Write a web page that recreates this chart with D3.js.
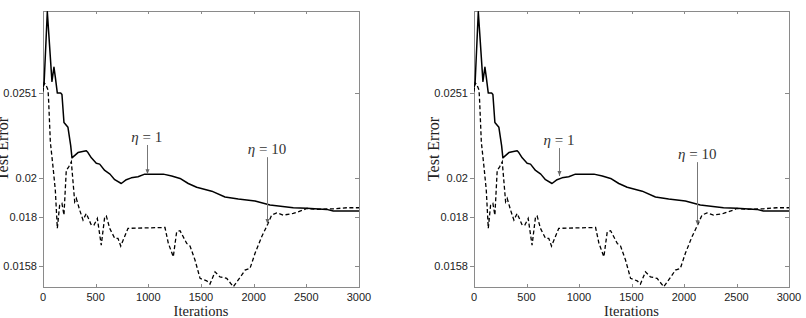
<!DOCTYPE html>
<html>
<head>
<meta charset="utf-8">
<script src="https://cdn.jsdelivr.net/npm/d3@7/dist/d3.min.js"></script>
<style>
  body { margin: 0; background: #fff; }
  svg { display: block; }
  .tick-label { font-family: "Liberation Sans", Arial, sans-serif; font-size: 11px; fill: #222; }
  .axis-title { font-family: "Liberation Serif", "Times New Roman", serif; fill: #222; }
  .anno { font-family: "Liberation Serif", "Times New Roman", serif; font-size: 15px; fill: #333; }
</style>
</head>
<body>
<svg id="chart" width="806" height="318"></svg>
<script>
// datos (iteraciones vs error de test)
const solidIters = [0, 10, 41, 85, 104, 117, 136, 168, 180, 199, 237, 263, 275, 332, 364, 411, 427, 459, 506, 538,
  586, 636, 681, 743, 791, 838, 902, 966, 1142, 1222, 1301, 1379, 1459, 1602, 1728, 1854, 2013, 2155, 2376, 2503,
  2693, 2756, 3000];
const solidErr = [0.0255, 0.0257, 0.0312, 0.0259, 0.0269, 0.0262, 0.0251, 0.0251, 0.0250, 0.0232, 0.0229, 0.0218,
  0.0211, 0.0214, 0.02145, 0.0215, 0.0214, 0.0211, 0.0208, 0.02075, 0.0204, 0.0202, 0.0199, 0.0197, 0.0199, 0.0200,
  0.02006, 0.0202, 0.0202, 0.0201, 0.01997, 0.0197, 0.0195, 0.0193, 0.0190, 0.0189, 0.0188, 0.0186, 0.01846,
  0.01843, 0.01838, 0.0183, 0.0183];

const dashedIters = [0, 10, 25, 48, 54, 70, 95, 117, 136, 158, 180, 199, 221, 244, 269, 301, 316, 348, 380, 411,
  459, 484, 516, 553, 586, 601, 633, 681, 712, 738, 807, 1158, 1190, 1237, 1269, 1301, 1364, 1396, 1443, 1491,
  1554, 1585, 1633, 1680, 1744, 1807, 1886, 1918, 1965, 2013, 2076, 2129, 2171, 2219, 2281, 2376, 2471, 2503, 2598,
  2756, 2883, 3000];
const dashedErr = [0.0252, 0.0258, 0.0257, 0.0253, 0.0245, 0.0220, 0.0206, 0.01935, 0.01747, 0.01859, 0.01868,
  0.0181, 0.0204, 0.0206, 0.02088, 0.01876, 0.01893, 0.01835, 0.01786, 0.01818, 0.01762, 0.01762, 0.01794, 0.0167,
  0.01802, 0.01806, 0.01747, 0.01701, 0.01701, 0.01666, 0.01747, 0.01751, 0.01678, 0.01619, 0.01731, 0.01736,
  0.01678, 0.01666, 0.01605, 0.01528, 0.01518, 0.01505, 0.01555, 0.01534, 0.01528, 0.01494, 0.01541, 0.01562,
  0.01569, 0.01634, 0.01708, 0.01762, 0.0181, 0.01821, 0.0181, 0.01818, 0.01835, 0.01843, 0.01838, 0.01841,
  0.01846, 0.01846];

const xTicks = [0, 500, 1000, 1500, 2000, 2500, 3000];
const yTicks = [0.0158, 0.018, 0.02, 0.0251];
const yTickLabels = ['0.0158', '0.018', '0.02', '0.0251'];

// anotaciones: texto, iteracion, valor de la punta y valor del inicio de la flecha
const annoLabels = ['1', '10'];
const leftAnnoIters = [985, 2127];
const leftAnnoTip = [0.0202, 0.01767];
const leftAnnoTop = [0.02184, 0.02114];
const rightAnnoIters = [810, 2127];
const rightAnnoTip = [0.0201, 0.01762];
const rightAnnoTop = [0.02166, 0.02086];

const svg = d3.select('#chart');
const plotTop = 11, plotBottom = 287;

const yScale = d3.scaleLog()
    .domain([0.01493, 0.03127])
    .range([plotBottom, plotTop]);

const defs = svg.append('defs');
defs.append('marker')
    .attr('id', 'arrow')
    .attr('viewBox', '0 0 10 10')
    .attr('refX', 10).attr('refY', 5)
    .attr('markerWidth', 5).attr('markerHeight', 5)
    .attr('orient', 'auto')
    .append('path')
    .attr('d', 'M0,1 L10,5 L0,9 Z')
    .attr('fill', '#666');

function drawPanel(id, x0, x1, annoIters, annoTip, annoTop) {
    const xScale = d3.scaleLinear().domain([0, 3000]).range([x0, x1]);
    const g = svg.append('g');
    const axisColor = '#8a8a8a';

    defs.append('clipPath').attr('id', 'clip' + id)
        .append('rect')
        .attr('x', x0).attr('y', plotTop)
        .attr('width', x1 - x0).attr('height', plotBottom - plotTop);

    // caja de los ejes
    g.append('rect')
        .attr('x', x0 + 0.5).attr('y', plotTop + 0.5)
        .attr('width', x1 - x0).attr('height', plotBottom - plotTop)
        .attr('fill', 'none')
        .attr('stroke', axisColor)
        .attr('stroke-width', 1);

    // ticks en x (abajo y arriba, hacia adentro)
    xTicks.forEach(t => {
        const x = Math.round(xScale(t)) + 0.5;
        g.append('line').attr('x1', x).attr('x2', x).attr('y1', plotBottom).attr('y2', plotBottom - 3)
            .attr('stroke', axisColor);
        g.append('line').attr('x1', x).attr('x2', x).attr('y1', plotTop).attr('y2', plotTop + 3)
            .attr('stroke', axisColor);
        g.append('text').attr('class', 'tick-label')
            .attr('x', xScale(t)).attr('y', 300.5)
            .attr('text-anchor', 'middle')
            .text(t);
    });

    // ticks en y (izquierda hacia afuera, derecha hacia adentro)
    yTicks.forEach((t, i) => {
        const y = Math.round(yScale(t)) + 0.5;
        g.append('line').attr('x1', x0 - 4).attr('x2', x0).attr('y1', y).attr('y2', y)
            .attr('stroke', axisColor);
        g.append('line').attr('x1', x1 - 4).attr('x2', x1).attr('y1', y).attr('y2', y)
            .attr('stroke', axisColor);
        g.append('text').attr('class', 'tick-label')
            .attr('x', x0 - 6).attr('y', yScale(t) + 4)
            .attr('text-anchor', 'end')
            .text(yTickLabels[i]);
    });

    // titulos de ejes
    g.append('text').attr('class', 'axis-title')
        .attr('x', (x0 + x1) / 2).attr('y', 316)
        .attr('text-anchor', 'middle')
        .style('font-size', '14.5px')
        .text('Iterations');
    g.append('text').attr('class', 'axis-title')
        .attr('transform', `translate(${x0 - 35},149) rotate(-90)`)
        .attr('text-anchor', 'middle')
        .style('font-size', '16px')
        .text('Test Error');

    const line = d3.line()
        .x(d => xScale(d[0]))
        .y(d => yScale(d[1]));

    const lines = g.append('g').attr('clip-path', `url(#clip${id})`);
    lines.append('path')
        .datum(solidIters.map((d, i) => [d, solidErr[i]]))
        .attr('d', line)
        .attr('fill', 'none')
        .attr('stroke', '#000')
        .attr('stroke-width', 1.5)
        .attr('stroke-linejoin', 'round');
    lines.append('path')
        .datum(dashedIters.map((d, i) => [d, dashedErr[i]]))
        .attr('d', line)
        .attr('fill', 'none')
        .attr('stroke', '#000')
        .attr('stroke-width', 1.3)
        .attr('stroke-dasharray', '4,2.5');

    // flechas con eta
    annoIters.forEach((it, i) => {
        const x = Math.round(xScale(it)) + 0.5;
        g.append('line')
            .attr('x1', x).attr('x2', x)
            .attr('y1', yScale(annoTop[i])).attr('y2', yScale(annoTip[i]))
            .attr('stroke', '#777')
            .attr('stroke-width', 1)
            .attr('marker-end', 'url(#arrow)');
        const txt = g.append('text').attr('class', 'anno')
            .attr('x', xScale(it)).attr('y', yScale(annoTop[i]) - 3)
            .attr('text-anchor', 'middle');
        txt.append('tspan').style('font-style', 'italic').text('η');
        txt.append('tspan').text(' = ' + annoLabels[i]);
    });
}

drawPanel('L', 43, 359, leftAnnoIters, leftAnnoTip, leftAnnoTop);
drawPanel('R', 474, 789, rightAnnoIters, rightAnnoTip, rightAnnoTop);
</script>
</body>
</html>
